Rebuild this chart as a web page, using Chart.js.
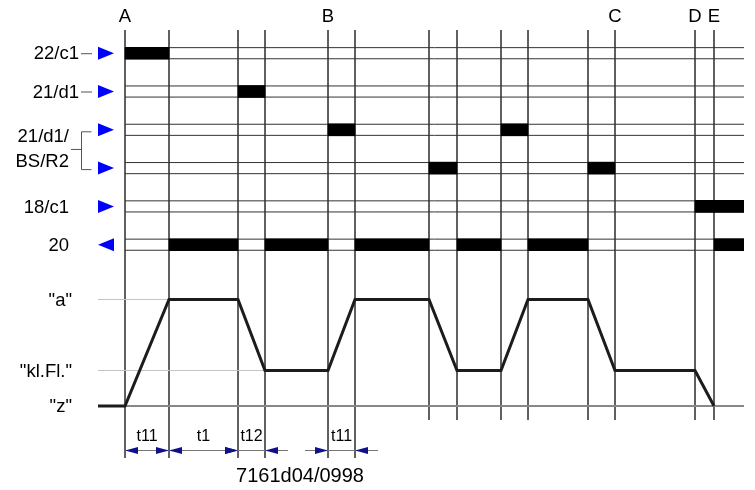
<!DOCTYPE html>
<html>
<head>
<meta charset="utf-8">
<script src="https://cdn.jsdelivr.net/npm/chart.js@4/dist/chart.umd.min.js"></script>
<style>
html, body { margin: 0; padding: 0; background: #fff; }
canvas { display: block; }
</style>
</head>
<body>
<canvas id="timing" width="755" height="490"></canvas>
<script>
// ZEITPUNKTE (senkrechte Linien)
const eventTimes = [0, 44, 113, 140, 203, 230, 304, 332, 376, 403, 463, 490, 570, 589];
const eventLetters = ["A", "B", "C", "D", "E"];
const eventLetterTimes = [0, 203, 490, 570, 589];
const endTime = 619;

// SIGNALSPUREN oben
const rowLabels = ["22/c1", "21/d1", "21/d1/\nBS/R2", "21/d1/\nBS/R2", "18/c1", "20"];
const rowDirection = ["in", "in", "in", "in", "in", "out"];
const rowActive = [
  [[0, 44]],
  [[113, 140]],
  [[203, 230], [376, 403]],
  [[304, 332], [463, 490]],
  [[570, 619]],
  [[44, 113], [140, 203], [230, 304], [332, 376], [403, 463], [589, 619]]
];

// VERLAUF unten
const levelNames = ['"z"', '"kl.Fl."', '"a"'];
const levelValues = [0, 1, 3];
const signalTimes = [-27, 0, 44, 113, 140, 203, 230, 304, 332, 376, 403, 463, 490, 570, 589];
const signalLevels = [0, 0, 3, 3, 1, 1, 3, 3, 1, 1, 3, 3, 1, 1, 0];

// BEMASSUNG
const dimLabels = ["t11", "t1", "t12", "t11"];
const dimStart = [0, 44, 113, 203];
const dimEnd = [44, 113, 140, 230];


const FONT = '"Liberation Sans", Arial, sans-serif';
const rowValue = i => rowLabels.length - 1 - i;
const HALF = 0.145;

// Balken
const barData = [];
rowActive.forEach((segs, i) => {
  segs.forEach(s => barData.push({ x: s, y: rowValue(i) }));
});

// Spurlinien
const trackData = [];
rowLabels.forEach((l, i) => {
  [HALF, -HALF].forEach(h => {
    trackData.push({ x: 0, y: rowValue(i) + h });
    trackData.push({ x: endTime, y: rowValue(i) + h });
    trackData.push({ x: endTime, y: null });
  });
});

// Hilfslinien der Pegel
const guideData = [];
levelValues.forEach(v => {
  let to = endTime;
  if (v !== 0) to = signalTimes[signalLevels.indexOf(v)];
  guideData.push({ x: -27, y: v }, { x: to, y: v }, { x: to, y: null });
});

// Senkrechte Linien
const Y_MIN = -1.465, Y_MAX = 10.592;
const dimTimes = dimStart.concat(dimEnd);
const vertData = [];
eventTimes.forEach(t => {
  const bottom = dimTimes.includes(t) ? Y_MIN : -0.395;
  vertData.push({ x: t, y: Y_MAX }, { x: t, y: bottom }, { x: t, y: null });
});

function arrow(ctx, tip, y, dir) {
  ctx.beginPath();
  ctx.moveTo(tip, y);
  ctx.lineTo(tip - dir * 13, y - 3.5);
  ctx.lineTo(tip - dir * 13, y + 3.5);
  ctx.closePath();
  ctx.fill();
}

const decor = {
  id: "decor",
  afterDraw(chart) {
    const ctx = chart.ctx;
    const xs = chart.scales.x, ys = chart.scales.y, rs = chart.scales.yRow;
    ctx.save();
    ctx.fillStyle = "#000";
    ctx.textBaseline = "middle";
    ctx.font = "18.5px " + FONT;

    // Buchstaben oben
    ctx.textAlign = "center";
    eventLetters.forEach((l, i) => {
      ctx.fillText(l, xs.getPixelForValue(eventLetterTimes[i]), 17);
    });

    // Spurbeschriftung
    const done = {};
    rowLabels.forEach((label, i) => {
      const y = rs.getPixelForValue(rowValue(i));
      ctx.fillStyle = "#0000ff";
      ctx.beginPath();
      if (rowDirection[i] === "in") {
        ctx.moveTo(98, y - 6.5); ctx.lineTo(114, y); ctx.lineTo(98, y + 6.5);
      } else {
        ctx.moveTo(114, y - 6.5); ctx.lineTo(98, y); ctx.lineTo(114, y + 6.5);
      }
      ctx.closePath();
      ctx.fill();
      ctx.fillStyle = "#000";
      ctx.strokeStyle = "#555";
      ctx.lineWidth = 1;
      ctx.textAlign = "right";

      const group = rowLabels.filter(l => l === label).length;
      if (group > 1) {
        if (done[label]) return;
        done[label] = true;
        const y2 = rs.getPixelForValue(rowValue(rowLabels.lastIndexOf(label)));
        const mid = (y + y2) / 2;
        const lines = label.split("\n");
        lines.forEach((t, k) => ctx.fillText(t, 69, mid + (k - (lines.length - 1) / 2) * 25));
        ctx.beginPath();
        ctx.moveTo(91.5, y + 2); ctx.lineTo(81.5, y + 2); ctx.lineTo(81.5, y2 + 1.5); ctx.lineTo(91.5, y2 + 1.5);
        ctx.moveTo(71, mid + 0.5); ctx.lineTo(81.5, mid + 0.5);
        ctx.stroke();
      } else if (i < 2) {
        ctx.fillText(label, 79, y + 1);
        ctx.beginPath();
        ctx.moveTo(81, y + 0.5); ctx.lineTo(92, y + 0.5);
        ctx.stroke();
      } else {
        ctx.fillText(label, 69, y + 1);
      }
    });

    // Pegelbeschriftung
    ctx.textAlign = "right";
    levelNames.forEach((n, i) => ctx.fillText(n, 72, ys.getPixelForValue(levelValues[i]) + 1));

    // Bemassung
    const dy = 450;
    ctx.font = "16px " + FONT;
    ctx.textAlign = "center";
    dimLabels.forEach((lab, i) => {
      const x1 = xs.getPixelForValue(dimStart[i]), x2 = xs.getPixelForValue(dimEnd[i]);
      const inside = x2 - x1 >= 40;
      ctx.strokeStyle = "#777";
      ctx.lineWidth = 1;
      ctx.beginPath();
      ctx.moveTo(inside ? x1 : x1 - 23, dy + 0.5);
      ctx.lineTo(inside ? x2 : x2 + 23, dy + 0.5);
      ctx.stroke();
      ctx.fillStyle = "#10108a";
      if (inside) {
        arrow(ctx, x1, dy + 0.5, -1);
        arrow(ctx, x2, dy + 0.5, 1);
      } else {
        arrow(ctx, x1, dy + 0.5, 1);
        arrow(ctx, x2, dy + 0.5, -1);
      }
      ctx.fillStyle = "#000";
      ctx.fillText(lab, (x1 + x2) / 2, 437);
    });

    ctx.font = "20px " + FONT;
    ctx.fillText("7161d04/0998", 300, 476);
    ctx.restore();
  }
};

new Chart(document.getElementById("timing"), {
  type: "line",
  data: {
    datasets: [
      {
        label: "Verlauf",
        data: signalTimes.map((t, i) => ({ x: t, y: signalLevels[i] })),
        yAxisID: "y",
        borderColor: "#1c1c1c",
        borderWidth: 3,
        pointRadius: 0,
        order: 0
      },
      {
        type: "bar",
        label: "aktiv",
        indexAxis: "y",
        data: barData,
        xAxisID: "x",
        yAxisID: "yRow",
        backgroundColor: "#000",
        borderWidth: 0,
        barThickness: 12,
        order: 1
      },
      {
        label: "Spuren",
        data: trackData,
        yAxisID: "yRow",
        borderColor: "#333",
        borderWidth: 1,
        pointRadius: 0,
        spanGaps: false,
        order: 2
      },
      {
        label: "Pegel",
        data: guideData,
        yAxisID: "y",
        borderColor: "#c4c4c4",
        borderWidth: 1,
        pointRadius: 0,
        spanGaps: false,
        segment: {
          borderColor: c => c.p0.parsed.y === 0 ? "#888" : "#c4c4c4",
          borderWidth: c => c.p0.parsed.y === 0 ? 2 : 1
        },
        order: 3
      },
      {
        label: "Zeitpunkte",
        data: vertData,
        yAxisID: "y",
        borderColor: "#4a4a4a",
        borderWidth: 1,
        pointRadius: 0,
        spanGaps: false,
        order: 4
      }
    ]
  },
  options: {
    responsive: false,
    animation: false,
    events: [],
    layout: { padding: { left: 98, right: 11, top: 30, bottom: 32 } },
    plugins: { legend: { display: false }, tooltip: { enabled: false } },
    scales: {
      x: { type: "linear", min: -27, max: endTime, display: false, offset: false },
      y: { type: "linear", min: Y_MIN, max: Y_MAX, display: false, offset: false },
      yRow: { type: "linear", axis: "y", min: -5.569, max: 5.606, display: false, offset: false }
    }
  },
  plugins: [decor]
});
</script>
</body>
</html>
